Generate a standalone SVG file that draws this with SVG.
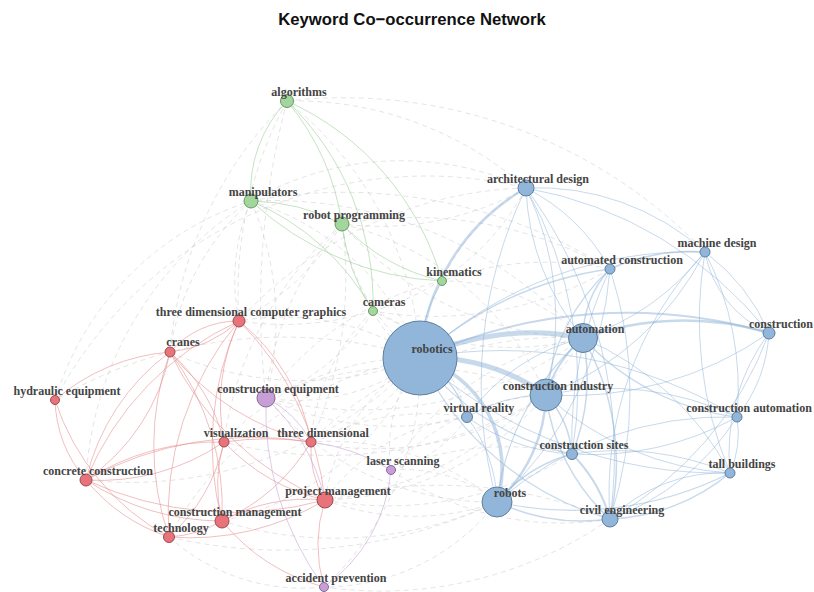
<svg xmlns="http://www.w3.org/2000/svg" width="814" height="592" viewBox="0 0 814 592">
<style>
.g{fill:none;stroke:#c4c4c4;stroke-width:1;stroke-dasharray:5 4;opacity:.45}
.b{fill:none;stroke:#8fb4d8;stroke-width:1;opacity:.5}
.r{fill:none;stroke:#e58a8c;stroke-width:1;opacity:.55}
.gr{fill:none;stroke:#97cc91;stroke-width:1;opacity:.55}
.p{fill:none;stroke:#c9a6d6;stroke-width:1;opacity:.6}
.nb{fill:#91b6da;stroke:#5e7e9e;stroke-width:1}
.nr{fill:#e8737a;stroke:#9e4a50;stroke-width:1}
.ng{fill:#a2d69c;stroke:#669a62;stroke-width:1}
.np{fill:#c79fd6;stroke:#86699a;stroke-width:1}
.lbl{font-family:"Liberation Serif","Times New Roman",serif;font-weight:bold;font-size:12px;fill:#444;text-anchor:middle}
.title{font-family:"Liberation Sans",Arial,sans-serif;font-weight:bold;font-size:16.7px;fill:#111;text-anchor:middle}
</style>
<rect width="814" height="592" fill="#ffffff"/>
<text class="title" x="412" y="24.5">Keyword Co−occurrence Network</text>
<g id="connectors">
<g id="inter-cluster">
<path class="g" d="M420 358 A260 260 0 0 0 251 201"/>
<path class="g" d="M420 358 A200 200 0 0 1 342 224"/>
<path class="g" d="M420 358 A350 350 0 0 0 287 101"/>
<path class="g" d="M420 358 A100 100 0 0 1 373 311"/>
<path class="g" d="M420 358 A250 250 0 0 0 239 321"/>
<path class="g" d="M420 358 A320 320 0 0 1 170 352"/>
<path class="g" d="M420 358 A450 450 0 0 0 55 400"/>
<path class="g" d="M420 358 A200 200 0 0 1 266 398"/>
<path class="g" d="M420 358 A260 260 0 0 0 224 442"/>
<path class="g" d="M420 358 A180 180 0 0 1 311 442"/>
<path class="g" d="M420 358 A150 150 0 0 0 391 470"/>
<path class="g" d="M420 358 A400 400 0 0 1 86 480"/>
<path class="g" d="M420 358 A200 200 0 0 0 325 500"/>
<path class="g" d="M420 358 A280 280 0 0 1 222 521"/>
<path class="g" d="M420 358 A350 350 0 0 0 169 537"/>
<path class="g" d="M420 358 A300 300 0 0 1 324 587"/>
<path class="g" d="M583 338 A420 420 0 0 0 251 201"/>
<path class="g" d="M583 338 A330 330 0 0 1 342 224"/>
<path class="g" d="M583 338 A200 200 0 0 0 442 281"/>
<path class="g" d="M583 338 A280 280 0 0 1 373 311"/>
<path class="g" d="M583 338 A380 380 0 0 1 266 398"/>
<path class="g" d="M583 338 A350 350 0 0 0 311 442"/>
<path class="g" d="M583 338 A350 350 0 0 1 325 500"/>
<path class="g" d="M583 338 A280 280 0 0 0 391 470"/>
<path class="g" d="M546 395 A350 350 0 0 0 266 398"/>
<path class="g" d="M546 395 A300 300 0 0 1 325 500"/>
<path class="g" d="M546 395 A300 300 0 0 1 311 442"/>
<path class="g" d="M546 395 A220 220 0 0 0 391 470"/>
<path class="g" d="M546 395 A420 420 0 0 1 224 442"/>
<path class="g" d="M546 395 A300 300 0 0 0 342 224"/>
<path class="g" d="M497 502 A250 250 0 0 1 325 500"/>
<path class="g" d="M497 502 A150 150 0 0 0 391 470"/>
<path class="g" d="M497 502 A220 220 0 0 1 324 587"/>
<path class="g" d="M497 502 A260 260 0 0 0 311 442"/>
<path class="g" d="M497 502 A300 300 0 0 1 266 398"/>
<path class="g" d="M497 502 A380 380 0 0 1 222 521"/>
<path class="g" d="M467 417 A120 120 0 0 1 391 470"/>
<path class="g" d="M467 417 A250 250 0 0 0 311 442"/>
<path class="g" d="M467 417 A300 300 0 0 1 266 398"/>
<path class="g" d="M467 417 A200 200 0 0 0 325 500"/>
<path class="g" d="M467 417 A150 150 0 0 0 373 311"/>
<path class="g" d="M526 188 A300 300 0 0 0 251 201"/>
<path class="g" d="M526 188 A350 350 0 0 0 287 101"/>
<path class="g" d="M526 188 A300 300 0 0 1 342 224"/>
<path class="g" d="M526 188 A200 200 0 0 0 442 281"/>
<path class="g" d="M526 188 A250 250 0 0 1 373 311"/>
<path class="g" d="M526 188 A400 400 0 0 0 239 321"/>
<path class="g" d="M610 269 A300 300 0 0 0 442 281"/>
<path class="g" d="M610 269 A350 350 0 0 1 373 311"/>
<path class="g" d="M610 269 A400 400 0 0 0 342 224"/>
<path class="g" d="M55 400 A420 420 0 0 1 526 188"/>
<path class="g" d="M169 537 A200 200 0 0 0 324 587"/>
<path class="g" d="M169 537 A500 500 0 0 0 497 502"/>
<path class="g" d="M251 201 A200 200 0 0 0 239 321"/>
<path class="g" d="M251 201 A250 250 0 0 0 170 352"/>
<path class="g" d="M251 201 A300 300 0 0 1 266 398"/>
<path class="g" d="M287 101 A400 400 0 0 0 239 321"/>
<path class="g" d="M287 101 A800 800 0 0 0 266 398"/>
<path class="g" d="M342 224 A300 300 0 0 0 266 398"/>
<path class="g" d="M342 224 A250 250 0 0 1 239 321"/>
<path class="g" d="M342 224 A350 350 0 0 0 224 442"/>
<path class="g" d="M342 224 A400 400 0 0 1 311 442"/>
<path class="g" d="M373 311 A200 200 0 0 1 266 398"/>
<path class="g" d="M373 311 A200 200 0 0 0 311 442"/>
<path class="g" d="M373 311 A300 300 0 0 1 239 321"/>
<path class="g" d="M442 281 A300 300 0 0 0 266 398"/>
<path class="g" d="M572 454 A350 350 0 0 1 325 500"/>
<path class="g" d="M572 454 A300 300 0 0 0 391 470"/>
<path class="g" d="M610 519 A450 450 0 0 0 325 500"/>
<path class="g" d="M610 519 A300 300 0 0 1 391 470"/>
<path class="g" d="M610 519 A400 400 0 0 1 324 587"/>
<path class="g" d="M86 480 A350 350 0 0 1 251 201"/>
<path class="g" d="M55 400 A300 300 0 0 1 251 201"/>
<path class="g" d="M170 352 A400 400 0 0 1 287 101"/>
<path class="g" d="M287 101 A500 500 0 0 1 705 252"/>
<path class="g" d="M251 201 A500 500 0 0 1 610 269"/>
</g>
<g id="blue-edges">
<path class="b" style="stroke-width:5" d="M420 358 A260 260 0 0 1 583 338"/>
<path class="b" style="stroke-width:5" d="M420 358 A200 200 0 0 1 546 395"/>
<path class="b" style="stroke-width:3.5" d="M420 358 A115 115 0 0 1 497 502"/>
<path class="b" style="stroke-width:2.5" d="M420 358 A212 212 0 0 1 526 188"/>
<path class="b" style="stroke-width:2.5" d="M546 395 A150 150 0 0 1 497 502"/>
<path class="b" style="stroke-width:2" d="M583 338 A120 120 0 0 0 546 395"/>
<path class="b" style="stroke-width:1.5" d="M420 358 A100 100 0 0 1 467 417"/>
<path class="b" style="stroke-width:1.5" d="M420 358 A350 350 0 0 1 610 269"/>
<path class="b" style="stroke-width:2" d="M420 358 A500 500 0 0 1 769 333"/>
<path class="b" style="stroke-width:1.2" d="M420 358 A260 260 0 0 0 572 454"/>
<path class="b" style="stroke-width:1.2" d="M420 358 A300 300 0 0 0 610 519"/>
<path class="b" d="M420 358 A450 450 0 0 0 730 473"/>
<path class="b" d="M420 358 A450 450 0 0 1 737 417"/>
<path class="b" d="M420 358 A400 400 0 0 1 705 252"/>
<path class="b" d="M420 358 A150 150 0 0 1 442 281"/>
<path class="b" style="stroke-width:1.5" d="M583 338 A100 100 0 0 1 610 269"/>
<path class="b" d="M583 338 A260 260 0 0 0 705 252"/>
<path class="b" style="stroke-width:2.5" d="M583 338 A300 300 0 0 1 769 333"/>
<path class="b" d="M583 338 A250 250 0 0 1 526 188"/>
<path class="b" style="stroke-width:1.2" d="M583 338 A260 260 0 0 0 497 502"/>
<path class="b" style="stroke-width:1.5" d="M583 338 A200 200 0 0 1 572 454"/>
<path class="b" style="stroke-width:1.5" d="M583 338 A250 250 0 0 1 610 519"/>
<path class="b" d="M583 338 A300 300 0 0 1 730 473"/>
<path class="b" style="stroke-width:1.2" d="M583 338 A250 250 0 0 0 737 417"/>
<path class="b" style="stroke-width:1.5" d="M546 395 A100 100 0 0 1 572 454"/>
<path class="b" style="stroke-width:1.5" d="M546 395 A200 200 0 0 0 610 519"/>
<path class="b" d="M546 395 A300 300 0 0 0 730 473"/>
<path class="b" d="M546 395 A300 300 0 0 1 737 417"/>
<path class="b" d="M546 395 A300 300 0 0 0 526 188"/>
<path class="b" style="stroke-width:1.2" d="M546 395 A200 200 0 0 1 610 269"/>
<path class="b" d="M546 395 A300 300 0 0 0 705 252"/>
<path class="b" d="M546 395 A150 150 0 0 0 467 417"/>
<path class="b" d="M546 395 A350 350 0 0 0 769 333"/>
<path class="b" d="M497 502 A150 150 0 0 0 467 417"/>
<path class="b" style="stroke-width:1.5" d="M497 502 A150 150 0 0 1 572 454"/>
<path class="b" style="stroke-width:1.5" d="M497 502 A200 200 0 0 0 610 519"/>
<path class="b" style="stroke-width:1.2" d="M497 502 A350 350 0 0 0 730 473"/>
<path class="b" d="M497 502 A350 350 0 0 1 737 417"/>
<path class="b" d="M497 502 A350 350 0 0 0 610 269"/>
<path class="b" style="stroke-width:2" d="M572 454 A150 150 0 0 1 610 519"/>
<path class="b" d="M572 454 A300 300 0 0 1 730 473"/>
<path class="b" style="stroke-width:1.5" d="M610 519 A200 200 0 0 0 730 473"/>
<path class="b" d="M610 519 A160 160 0 0 1 730 473"/>
<path class="b" d="M610 519 A250 250 0 0 0 737 417"/>
<path class="b" d="M610 519 A350 350 0 0 0 769 333"/>
<path class="b" d="M610 519 A350 350 0 0 1 705 252"/>
<path class="b" style="stroke-width:1.5" d="M705 252 A200 200 0 0 0 610 269"/>
<path class="b" d="M705 252 A110 110 0 0 0 769 333"/>
<path class="b" d="M705 252 A200 200 0 0 1 769 333"/>
<path class="b" d="M705 252 A250 250 0 0 0 526 188"/>
<path class="b" d="M705 252 A400 400 0 0 0 730 473"/>
<path class="b" d="M705 252 A300 300 0 0 1 737 417"/>
<path class="b" d="M526 188 A200 200 0 0 1 610 269"/>
<path class="b" d="M526 188 A400 400 0 0 1 572 454"/>
<path class="b" d="M526 188 A400 400 0 0 1 769 333"/>
<path class="b" d="M526 188 A450 450 0 0 0 497 502"/>
<path class="b" d="M526 188 A450 450 0 0 1 610 519"/>
<path class="b" d="M769 333 A150 150 0 0 1 737 417"/>
<path class="b" d="M769 333 A200 200 0 0 0 730 473"/>
<path class="b" d="M737 417 A100 100 0 0 1 730 473"/>
<path class="b" d="M467 417 A200 200 0 0 0 572 454"/>
<path class="b" d="M467 417 A200 200 0 0 1 583 338"/>
<path class="b" d="M610 269 A400 400 0 0 0 572 454"/>
<path class="b" d="M610 269 A400 400 0 0 1 610 519"/>
<path class="b" d="M737 417 A300 300 0 0 1 572 454"/>
</g>
<g id="green-edges">
<path class="gr" d="M287 101 A130 130 0 0 0 251 201"/>
<path class="gr" d="M287 101 A250 250 0 0 1 342 224"/>
<path class="gr" d="M287 101 A280 280 0 0 1 373 311"/>
<path class="gr" d="M287 101 A280 280 0 0 1 442 281"/>
<path class="gr" d="M251 201 A200 200 0 0 1 342 224"/>
<path class="gr" d="M251 201 A300 300 0 0 0 442 281"/>
<path class="gr" d="M251 201 A250 250 0 0 1 373 311"/>
<path class="gr" d="M342 224 A200 200 0 0 0 373 311"/>
<path class="gr" d="M342 224 A200 200 0 0 0 442 281"/>
</g>
<g id="red-edges">
<path class="r" d="M239 321 A90 90 0 0 0 170 352"/>
<path class="r" d="M239 321 A120 120 0 0 1 170 352"/>
<path class="r" d="M239 321 A200 200 0 0 0 224 442"/>
<path class="r" d="M239 321 A200 200 0 0 1 311 442"/>
<path class="r" d="M239 321 A300 300 0 0 1 325 500"/>
<path class="r" d="M239 321 A300 300 0 0 0 222 521"/>
<path class="r" d="M239 321 A300 300 0 0 0 86 480"/>
<path class="r" d="M239 321 A300 300 0 0 0 169 537"/>
<path class="r" d="M170 352 A200 200 0 0 0 55 400"/>
<path class="r" d="M170 352 A220 220 0 0 0 86 480"/>
<path class="r" d="M170 352 A200 200 0 0 1 86 480"/>
<path class="r" d="M170 352 A180 180 0 0 1 224 442"/>
<path class="r" d="M170 352 A260 260 0 0 0 311 442"/>
<path class="r" d="M170 352 A300 300 0 0 0 325 500"/>
<path class="r" d="M170 352 A260 260 0 0 1 222 521"/>
<path class="r" d="M170 352 A280 280 0 0 0 169 537"/>
<path class="r" d="M55 400 A130 130 0 0 0 86 480"/>
<path class="r" d="M55 400 A240 240 0 0 0 169 537"/>
<path class="r" d="M224 442 A300 300 0 0 1 311 442"/>
<path class="r" d="M224 442 A220 220 0 0 1 86 480"/>
<path class="r" d="M224 442 A250 250 0 0 0 86 480"/>
<path class="r" d="M224 442 A200 200 0 0 0 325 500"/>
<path class="r" d="M224 442 A150 150 0 0 0 222 521"/>
<path class="r" d="M224 442 A180 180 0 0 1 169 537"/>
<path class="r" d="M311 442 A100 100 0 0 0 325 500"/>
<path class="r" d="M311 442 A200 200 0 0 1 222 521"/>
<path class="r" d="M311 442 A350 350 0 0 0 86 480"/>
<path class="r" d="M86 480 A250 250 0 0 0 222 521"/>
<path class="r" d="M86 480 A180 180 0 0 0 169 537"/>
<path class="r" d="M86 480 A350 350 0 0 0 325 500"/>
<path class="r" d="M222 521 A180 180 0 0 1 325 500"/>
<path class="r" d="M169 537 A260 260 0 0 0 325 500"/>
<path class="r" d="M222 521 A120 120 0 0 1 169 537"/>
<path class="r" d="M325 500 A150 150 0 0 0 324 587"/>
<path class="r" d="M222 521 A200 200 0 0 0 324 587"/>
</g>
<g id="purple-edges">
<path class="p" d="M266 398 A300 300 0 0 0 324 587"/>
<path class="p" d="M391 470 A160 160 0 0 1 324 587"/>
<path class="p" d="M266 398 A200 200 0 0 1 325 500"/>
<path class="p" d="M266 398 A100 100 0 0 1 311 442"/>
<path class="p" d="M391 470 A200 200 0 0 0 311 442"/>
</g>
</g>
<g id="nodes">
<g id="n-algorithms"><circle class="ng" cx="287" cy="101" r="6.5"/><text class="lbl" x="299" y="95.5">algorithms</text></g>
<g id="n-manipulators"><circle class="ng" cx="251" cy="201" r="7"/><text class="lbl" x="263" y="195.5">manipulators</text></g>
<g id="n-robot-programming"><circle class="ng" cx="342" cy="224" r="7"/><text class="lbl" x="354" y="218.5">robot programming</text></g>
<g id="n-kinematics"><circle class="ng" cx="442" cy="281" r="4.5"/><text class="lbl" x="454" y="275.5">kinematics</text></g>
<g id="n-cameras"><circle class="ng" cx="373" cy="311" r="4.5"/><text class="lbl" x="384" y="305.5">cameras</text></g>
<g id="n-architectural-design"><circle class="nb" cx="526" cy="188" r="8"/><text class="lbl" x="538" y="182.5">architectural design</text></g>
<g id="n-machine-design"><circle class="nb" cx="705" cy="252" r="5"/><text class="lbl" x="717" y="246.5">machine design</text></g>
<g id="n-automated-construction"><circle class="nb" cx="610" cy="269" r="5"/><text class="lbl" x="622" y="263.5">automated construction</text></g>
<g id="n-construction"><circle class="nb" cx="769" cy="333" r="6"/><text class="lbl" x="781" y="327.5">construction</text></g>
<g id="n-automation"><circle class="nb" cx="583" cy="338" r="14.5"/><text class="lbl" x="595" y="332.5">automation</text></g>
<g id="n-robotics"><circle class="nb" cx="420" cy="358" r="37"/><text class="lbl" x="432" y="352.5">robotics</text></g>
<g id="n-construction-industry"><circle class="nb" cx="546" cy="395" r="16"/><text class="lbl" x="558" y="389.5">construction industry</text></g>
<g id="n-virtual-reality"><circle class="nb" cx="467" cy="417" r="5.5"/><text class="lbl" x="479" y="411.5">virtual reality</text></g>
<g id="n-construction-automation"><circle class="nb" cx="737" cy="417" r="5"/><text class="lbl" x="749" y="411.5">construction automation</text></g>
<g id="n-construction-sites"><circle class="nb" cx="572" cy="454" r="5.5"/><text class="lbl" x="584" y="448.5">construction sites</text></g>
<g id="n-tall-buildings"><circle class="nb" cx="730" cy="473" r="5"/><text class="lbl" x="742" y="467.5">tall buildings</text></g>
<g id="n-robots"><circle class="nb" cx="497" cy="502" r="15"/><text class="lbl" x="510" y="496.5">robots</text></g>
<g id="n-civil-engineering"><circle class="nb" cx="610" cy="519" r="8"/><text class="lbl" x="622" y="513.5">civil engineering</text></g>
<g id="n-three-dimensional-computer-graphics"><circle class="nr" cx="239" cy="321" r="6"/><text class="lbl" x="251" y="315.5">three dimensional computer graphics</text></g>
<g id="n-cranes"><circle class="nr" cx="170" cy="352" r="5"/><text class="lbl" x="183" y="346">cranes</text></g>
<g id="n-hydraulic-equipment"><circle class="nr" cx="55" cy="400" r="4.5"/><text class="lbl" x="67" y="394.5">hydraulic equipment</text></g>
<g id="n-construction-equipment"><circle class="np" cx="266" cy="398" r="9"/><text class="lbl" x="278" y="392.5">construction equipment</text></g>
<g id="n-visualization"><circle class="nr" cx="224" cy="442" r="5"/><text class="lbl" x="236" y="437">visualization</text></g>
<g id="n-three-dimensional"><circle class="nr" cx="311" cy="442" r="5"/><text class="lbl" x="323" y="437">three dimensional</text></g>
<g id="n-laser-scanning"><circle class="np" cx="391" cy="470" r="4.5"/><text class="lbl" x="403" y="464.5">laser scanning</text></g>
<g id="n-concrete-construction"><circle class="nr" cx="86" cy="480" r="6"/><text class="lbl" x="98" y="475">concrete construction</text></g>
<g id="n-project-management"><circle class="nr" cx="325" cy="500" r="8"/><text class="lbl" x="338" y="494.5">project management</text></g>
<g id="n-construction-management"><circle class="nr" cx="222" cy="521" r="7"/><text class="lbl" x="235" y="515.5">construction management</text></g>
<g id="n-technology"><circle class="nr" cx="169" cy="537" r="5.5"/><text class="lbl" x="181" y="531.5">technology</text></g>
<g id="n-accident-prevention"><circle class="np" cx="324" cy="587" r="4.5"/><text class="lbl" x="336" y="581.5">accident prevention</text></g>
</g>
</svg>
